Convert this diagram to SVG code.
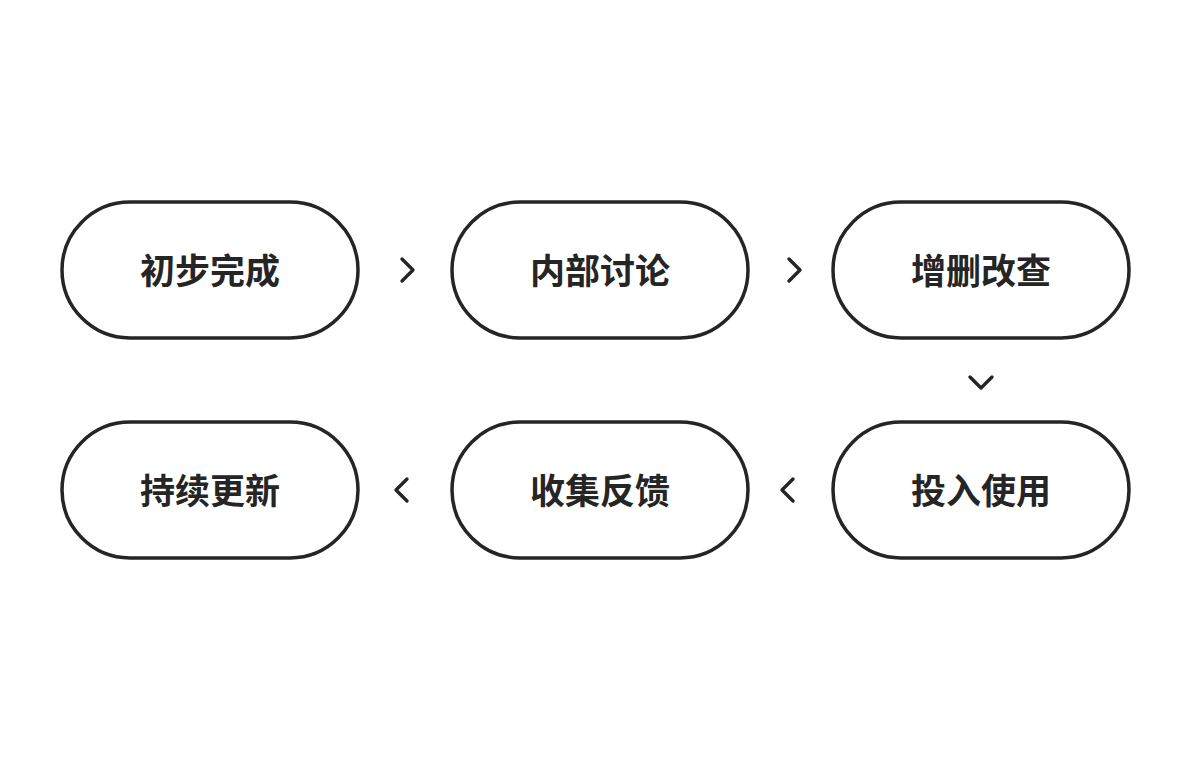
<svg xmlns="http://www.w3.org/2000/svg" width="1200" height="760" viewBox="0 0 1200 760">
<style>
.pill{fill:#fff;stroke:#252525;stroke-width:3.5}
.lbl{font-family:"Noto Sans CJK SC","Noto Sans",sans-serif;font-size:35px;font-weight:700;fill:#252525;text-anchor:middle;dominant-baseline:central}
.chev{fill:none;stroke:#252525;stroke-width:3.4;stroke-linecap:round;stroke-linejoin:round}
</style>
<rect width="1200" height="760" fill="#fff"/>
<g id="n1"><rect class="pill" x="62" y="202" width="296" height="136" rx="68"/><text class="lbl" x="210" y="268">初步完成</text></g>
<g id="n2"><rect class="pill" x="452" y="202" width="296" height="136" rx="68"/><text class="lbl" x="600" y="268">内部讨论</text></g>
<g id="n3"><rect class="pill" x="833" y="202" width="296" height="136" rx="68"/><text class="lbl" x="981" y="268">增删改查</text></g>
<g id="n4"><rect class="pill" x="833" y="422" width="296" height="136" rx="68"/><text class="lbl" x="981" y="488">投入使用</text></g>
<g id="n5"><rect class="pill" x="452" y="422" width="296" height="136" rx="68"/><text class="lbl" x="600" y="488">收集反馈</text></g>
<g id="n6"><rect class="pill" x="62" y="422" width="296" height="136" rx="68"/><text class="lbl" x="210" y="488">持续更新</text></g>
<g id="connectors">
<polyline class="chev" points="402,259 413,270 402,281"/>
<polyline class="chev" points="789,259 800,270 789,281"/>
<polyline class="chev" points="970,377 981,388 992,377"/>
<polyline class="chev" points="793,479 782,490 793,501"/>
<polyline class="chev" points="407,479 396,490 407,501"/>
</g>
</svg>
